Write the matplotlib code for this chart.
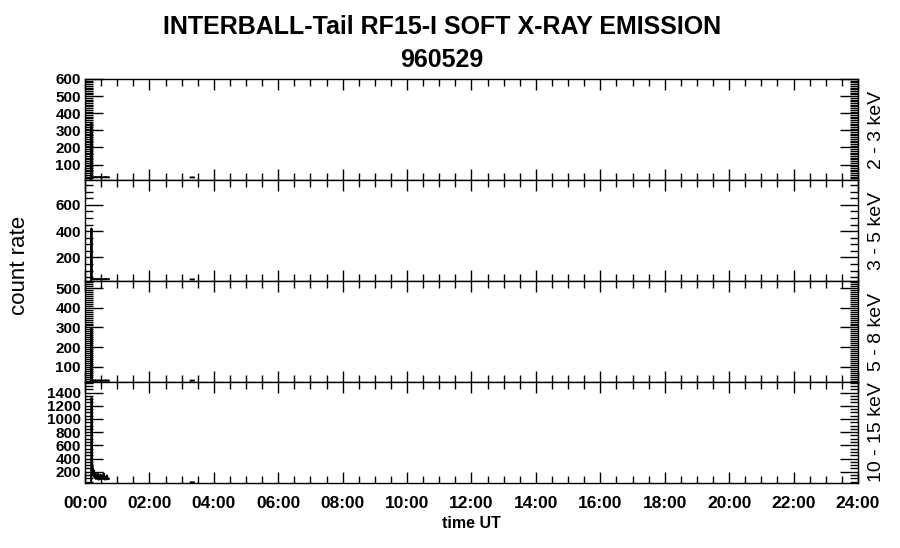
import numpy as np
import matplotlib.pyplot as plt
from matplotlib.ticker import MultipleLocator, FuncFormatter

nan = np.nan

# time in hours UT (shared by all channels), nan breaks the line
time_h = [0.19, 0.20, 0.21, 0.22, 0.24, 0.26, 0.28, 0.30, 0.32, 0.34, 0.36, 0.38,
          0.40, 0.42, 0.44, 0.46, 0.48, 0.50, 0.52, 0.54, 0.56, 0.58, 0.60, 0.62,
          0.64, 0.66, 0.68, 0.70, 0.72, 0.74, nan, 3.28, 3.38]

c_2_3 = [0, 340, 30, 28, 26, 27, 25, 26, 28, 25, 27, 26, 25, 27, 28, 26, 25, 27,
         26, 25, 26, 27, 25, 26, 28, 25, 27, 26, 25, 26, nan, 25, 25]
c_3_5 = [0, 420, 36, 34, 33, 35, 32, 34, 36, 33, 35, 34, 32, 35, 36, 34, 33, 35,
         34, 33, 34, 35, 33, 34, 36, 33, 35, 34, 33, 34, nan, 32, 32]
c_5_8 = [0, 295, 32, 30, 29, 31, 28, 30, 32, 29, 31, 30, 28, 31, 32, 30, 29, 31,
         30, 29, 30, 31, 29, 30, 32, 29, 31, 30, 29, 30, nan, 30, 30]
c_10_15 = [0, 1320, 1300, 330, 270, 140, 220, 110, 180, 90, 150, 100, 170, 80, 130,
           95, 160, 85, 120, 140, 90, 175, 100, 80, 125, 90, 145, 85, 100, 95,
           nan, 40, 40]

channels = [c_2_3, c_3_5, c_5_8, c_10_15]
chan_labels = ['2 - 3 keV', '3 - 5 keV', '5 - 8 keV', '10 - 15 keV']
y_ranges = [(10, 600), (20, 790), (23, 536), (30, 1560)]
y_major = [100, 200, 100, 200]
y_minor = [10, 50, 10, 50]

plt.rcParams['font.family'] = ['Liberation Sans', 'DejaVu Sans']

fig, axes = plt.subplots(4, 1, figsize=(9, 5.48), dpi=100, sharex=True)
plt.subplots_adjust(left=85/900, right=858/900, top=1-79/548, bottom=1-483/548, hspace=0)

for i, ax in enumerate(axes):
  ax.plot(time_h, channels[i], color='black', lw=1.4)
  ax.set_xlim(0, 24)
  ax.set_ylim(*y_ranges[i])
  ax.yaxis.set_major_locator(MultipleLocator(y_major[i]))
  ax.yaxis.set_minor_locator(MultipleLocator(y_minor[i]))
  ax.xaxis.set_major_locator(MultipleLocator(2))
  ax.xaxis.set_minor_locator(MultipleLocator(0.5))
  ax.tick_params(axis='both', which='both', direction='in', top=True, right=True,
                 color='black', width=1)
  ax.tick_params(axis='x', which='major', length=8, pad=9, labelsize=12.5)
  ax.tick_params(axis='x', which='minor', length=5)
  ax.tick_params(axis='y', which='major', length=13, pad=3, labelsize=11)
  ax.tick_params(axis='y', which='minor', length=6)
  for lab in ax.get_yticklabels():
    lab.set_fontweight('bold')
  for s in ax.spines.values():
    s.set_linewidth(1)
  ax.text(1.0235, 0.5, chan_labels[i], transform=ax.transAxes, rotation=90,
          ha='center', va='center', fontsize=14)

axes[-1].xaxis.set_major_formatter(FuncFormatter(lambda v, p: '%02d:00' % int(round(v))))
for lab in axes[-1].get_xticklabels():
  lab.set_fontweight('bold')
axes[-1].set_xlabel('time UT', fontsize=11.5, fontweight='bold', labelpad=4)

fig.text(20/900, 1 - 265/548, 'count rate', rotation=90, ha='center',
         va='center', fontsize=16)
fig.text(442/900, 1 - 27/548, 'INTERBALL-Tail RF15-I SOFT X-RAY EMISSION',
         ha='center', va='center', fontsize=18, fontweight='bold')
fig.text(442/900, 1 - 60/548, '960529', ha='center', va='center', fontsize=18,
         fontweight='bold')

fig.savefig('out.png', dpi=100)
